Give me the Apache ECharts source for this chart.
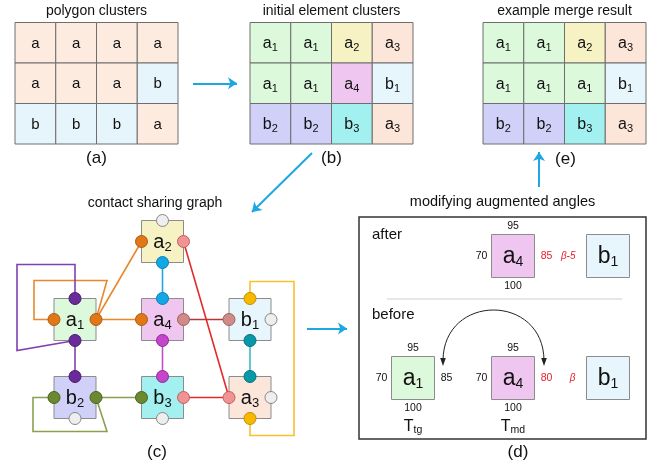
<!DOCTYPE html>
<html><head><meta charset="utf-8">
<script src="https://cdn.jsdelivr.net/npm/echarts@6/dist/echarts.min.js"></script>
<style>html,body{margin:0;padding:0;background:#fff}#c{width:665px;height:465px}</style>
</head><body><div id="c"></div>
<script>
// ---------------- data ----------------
const polygonClusters = [['a','a','a','a'],['a','a','a','b'],['b','b','b','a']];
const initialClusters = [['a1','a1','a2','a3'],['a1','a1','a4','b1'],['b2','b2','b3','a3']];
const mergeResult     = [['a1','a1','a2','a3'],['a1','a1','a1','b1'],['b2','b2','b3','a3']];
const panelTitles = ['polygon clusters','initial element clusters','example merge result','contact sharing graph','modifying augmented angles'];
const panelTags   = ['(a)','(b)','(e)','(c)','(d)'];
const graphNodes  = ['a2','a1','a4','b1','b2','b3','a3'];
// port: node, side, contact group ('free' = unshared)
const graphPorts = [
 ['a2','top','free'],['a2','left','orange'],['a2','right','pink'],['a2','bottom','blue'],
 ['a1','top','purple'],['a1','left','orange'],['a1','right','orange'],['a1','bottom','purple'],
 ['a4','top','blue'],['a4','left','orange'],['a4','right','brown'],['a4','bottom','magenta'],
 ['b1','top','gold'],['b1','left','brown'],['b1','right','free'],['b1','bottom','teal'],
 ['b2','top','purple'],['b2','left','olive'],['b2','right','olive'],['b2','bottom','free'],
 ['b3','top','magenta'],['b3','left','olive'],['b3','right','pink'],['b3','bottom','free'],
 ['a3','top','teal'],['a3','left','pink'],['a3','right','free'],['a3','bottom','gold']
];
// edge: from node, side, to node, side, group
const graphEdges = [
 ['a2','bottom','a4','top','blue'],
 ['a1','right','a2','left','orange'],
 ['a1','right','a4','left','orange'],
 ['a1','left','a1','right','orange'],
 ['a1','top','a1','bottom','purple'],
 ['a1','bottom','b2','top','purple'],
 ['a4','bottom','b3','top','magenta'],
 ['b2','right','b3','left','olive'],
 ['b2','left','b2','right','olive'],
 ['a4','right','b1','left','brown'],
 ['a2','right','a3','left','red'],
 ['b3','right','a3','left','red'],
 ['b1','bottom','a3','top','teal'],
 ['b1','top','a3','bottom','gold']
];
const angleRowLabels = ['after','before'];
const afterAngles      = [95, 100, 70, 85];   // a4 : top, bottom, left, right
const beforeTgAngles   = [95, 100, 70, 85];   // a1 (T_tg)
const beforeMdAngles   = [95, 100, 70, 80];   // a4 (T_md)
const betaLabels       = ['β-5', 'β'];
const roleLabels       = ['Ttg', 'Tmd'];

// ---------------- styles / layout ----------------
const FONT = '"Liberation Sans", Arial, Helvetica, sans-serif';
const FILL = {a:'#fdebe0', b:'#e6f4fb', a1:'#dcf9dc', a2:'#f6f2c4', a3:'#fce6da', a4:'#efc6ef', b1:'#e7f5fc', b2:'#d0d0f8', b3:'#a2f0f0'};
const PORT = {free:['#eeeeee','#888'], orange:['#e07818','#b05a10'], pink:['#f29393','#c06060'], blue:['#12a8e8','#0a80b0'],
  purple:['#6a2a9a','#4a1a70'], magenta:['#c444cc','#902a98'], brown:['#d08a88','#a06060'], olive:['#6b8a30','#4a6020'],
  gold:['#f8b800','#c09000'], teal:['#0898a8','#067080']};
const EDGE = {orange:'#e8882c', purple:'#8040b0', olive:'#8aa050', blue:'#20a8e0', magenta:'#c050c8', brown:'#b03838',
  red:'#e22a2a', teal:'#40b8c8', gold:'#f8c030'};
const L = {gridX:[15,250,483], gridY:22.5, cellW:40.75, cellH:40.5,
  g0x:75, g0y:241.5, gdx:87.5, gdy:78, half:21,
  dBox:[359,217,646,439], dColX:[413,513,608], dRowY:[256,378], dHalf:21.5};
const NODE_AT = {a2:[1,0], a1:[0,1], a4:[1,1], b1:[2,1], b2:[0,2], b3:[1,2], a3:[2,2]};
const SIDE = {top:[0,-1], bottom:[0,1], left:[-1,0], right:[1,0]};
const LOOPS = { // waypoints relative to the centre of the source node
 'a1.left>a1.right':[[-41,0],[-41,-39],[32,-39]],
 'a1.top>a1.bottom':[[0,-55],[-58,-55],[-58,31]],
 'b2.left>b2.right':[[-42,0],[-42,34],[32,34]],
 'b1.top>a3.bottom':[[0,-38],[44,-38],[44,116],[0,116]]
};
function nodeC(n){ const p = NODE_AT[n]; return [L.g0x + p[0]*L.gdx, L.g0y + p[1]*L.gdy]; }
function portXY(n, s){ const c = nodeC(n), d = SIDE[s]; return [c[0]+d[0]*L.half, c[1]+d[1]*L.half]; }

function richLabel(s){ return s.length>1 ? '{m|'+s[0]+'}{s|'+s.slice(1)+'}' : '{m|'+s+'}'; }
function rich(main, sub, drop, fill){ fill = fill || '#111';
  return {m:{fontSize:main, fontFamily:FONT, fill:fill}, s:{fontSize:sub, fontFamily:FONT, fill:fill, padding:[drop,0,0,0]}}; }

// ---------- derived lists ----------
const cellList = [];
[polygonClusters, initialClusters, mergeResult].forEach((g,p)=>g.forEach((row,r)=>row.forEach((lab,c)=>cellList.push({p,r,c,lab}))));

const edgeData = graphEdges.map(e=>{
  const key = e[0]+'.'+e[1]+'>'+e[2]+'.'+e[3];
  const a = portXY(e[0],e[1]), b = portXY(e[2],e[3]);
  let pts = [a];
  if (LOOPS[key]) { const c = nodeC(e[0]); LOOPS[key].forEach(o=>pts.push([c[0]+o[0], c[1]+o[1]])); }
  pts.push(b);
  return {coords: pts, lineStyle:{color: EDGE[e[4]]}};
});
const portData = graphPorts.map(p=>({value: portXY(p[0],p[1]), itemStyle:{color:PORT[p[2]][0], borderColor:PORT[p[2]][1]}}));

const gw = 4*L.cellW, gh = 3*L.cellH;
const arrows = [
 [[L.gridX[0]+gw+15, L.gridY+1.5*L.cellH],[L.gridX[1]-13, L.gridY+1.5*L.cellH]],
 [[L.gridX[1]+62, L.gridY+gh+9],[L.gridX[1]+2, L.gridY+gh+68]],
 [[nodeC('b1')[0]+57, nodeC('b1')[1]+9],[L.dBox[0]-12, nodeC('b1')[1]+9]],
 [[L.gridX[2]+1.375*L.cellW, L.dBox[1]-30],[L.gridX[2]+1.375*L.cellW, L.gridY+gh+8]]
];

// text items
const texts = [];
const gridCx = L.gridX.map(x=>x+gw/2);
[0,1,2].forEach(i=>{ texts.push({x:gridCx[i], y:11, t:panelTitles[i], fs:14}); });
texts.push({x:gridCx[0], y:158, t:panelTags[0], fs:17});
texts.push({x:gridCx[1], y:158, t:panelTags[1], fs:17});
texts.push({x:gridCx[2]+1, y:159, t:panelTags[2], fs:17});
texts.push({x:155, y:203, t:panelTitles[3], fs:14});
texts.push({x:157, y:452, t:panelTags[3], fs:17});
texts.push({x:(L.dBox[0]+L.dBox[2])/2, y:202, t:panelTitles[4], fs:14.5});
texts.push({x:518, y:452, t:panelTags[4], fs:17});
angleRowLabels.forEach((s,i)=>texts.push({x:L.dBox[0]+13, y:L.dRowY[i]-21-(i?42:0)+(i?0:0), t:s, fs:15, align:'left'}));

// d-panel boxes
const dBoxes = [
 {lab:'a4', col:1, row:0, ang:afterAngles, red:true},
 {lab:'b1', col:2, row:0, ang:null, beta:betaLabels[0]},
 {lab:'a1', col:0, row:1, ang:beforeTgAngles, red:false, role:roleLabels[0]},
 {lab:'a4', col:1, row:1, ang:beforeMdAngles, red:true, role:roleLabels[1]},
 {lab:'b1', col:2, row:1, ang:null, beta:betaLabels[1]}
];

const chart = echarts.init(document.getElementById('c'), null, {renderer:'canvas'});
chart.setOption({
  animation:false,
  backgroundColor:'#ffffff',
  grid:{left:0, right:0, top:0, bottom:0},
  xAxis:{type:'value', min:0, max:665, show:false},
  yAxis:{type:'value', min:0, max:465, inverse:true, show:false},
  series:[
    { // grid cells
      type:'custom', z:1, data: cellList.map(d=>[L.gridX[d.p]+d.c*L.cellW, L.gridY+d.r*L.cellH]),
      renderItem:(params, api)=>{
        const d = cellList[params.dataIndex];
        const a = api.coord([api.value(0), api.value(1)]);
        const b = api.coord([api.value(0)+L.cellW, api.value(1)+L.cellH]);
        const big = d.p===0 ? rich(15,10,8) : rich(16,11,9);
        return {type:'group', children:[
          {type:'rect', shape:{x:a[0], y:a[1], width:b[0]-a[0], height:b[1]-a[1]}, style:{fill:FILL[d.lab], stroke:'#6e6e6e', lineWidth:1}},
          {type:'text', x:(a[0]+b[0])/2, y:(a[1]+b[1])/2+1, style:{text:richLabel(d.lab), rich:big, align:'center', verticalAlign:'middle'}}
        ]};
      }
    },
    { // graph node boxes
      type:'custom', z:1, data: graphNodes.map(n=>nodeC(n)),
      renderItem:(params, api)=>{
        const n = graphNodes[params.dataIndex];
        const c = api.coord([api.value(0), api.value(1)]);
        return {type:'group', children:[
          {type:'rect', shape:{x:c[0]-L.half, y:c[1]-L.half, width:2*L.half, height:2*L.half}, style:{fill:FILL[n], stroke:'#8c8c8c', lineWidth:1}},
          {type:'text', x:c[0], y:c[1]+1, style:{text:richLabel(n), rich:rich(20,13,10), align:'center', verticalAlign:'middle'}}
        ]};
      }
    },
    { // contact edges
      type:'lines', coordinateSystem:'cartesian2d', polyline:true, z:2, silent:true,
      lineStyle:{width:1.6, opacity:1}, data: edgeData
    },
    { // contact ports
      type:'scatter', z:3, symbol:'circle', symbolSize:12, silent:true,
      itemStyle:{borderWidth:1, opacity:1}, data: portData
    },
    { // flow arrows
      type:'lines', coordinateSystem:'cartesian2d', z:2, silent:true,
      symbol:['none','arrow'], symbolSize:[0,9],
      lineStyle:{color:'#1ea7e1', width:2, opacity:1},
      data: arrows.map(a=>({coords:a}))
    },
    { // panel d frame, separator, boxes, angles
      type:'custom', z:1, data:[[L.dBox[0], L.dBox[1]]],
      renderItem:(params, api)=>{
        const p0 = api.coord([L.dBox[0], L.dBox[1]]), p1 = api.coord([L.dBox[2], L.dBox[3]]);
        const ch = [
          {type:'rect', shape:{x:p0[0], y:p0[1], width:p1[0]-p0[0], height:p1[1]-p0[1]}, style:{fill:'none', stroke:'#333', lineWidth:1.5}},
          {type:'line', shape:{x1:p0[0]+28, y1:299, x2:p1[0]-24, y2:299}, style:{stroke:'#cfcfcf', lineWidth:1}}
        ];
        dBoxes.forEach(b=>{
          const c = api.coord([L.dColX[b.col], L.dRowY[b.row]]), h = L.dHalf;
          ch.push({type:'rect', shape:{x:c[0]-h, y:c[1]-h, width:2*h, height:2*h}, style:{fill:FILL[b.lab], stroke:'#8c8c8c', lineWidth:1}});
          ch.push({type:'text', x:c[0], y:c[1]+1, style:{text:richLabel(b.lab), rich:rich(23,14,11), align:'center', verticalAlign:'middle'}});
          if (b.ang) {
            const f = {fontSize:10.5, fontFamily:FONT, align:'center', verticalAlign:'middle'};
            ch.push({type:'text', x:c[0], y:c[1]-h-8, style:Object.assign({text:String(b.ang[0]), fill:'#111'}, f)});
            ch.push({type:'text', x:c[0], y:c[1]+h+9, style:Object.assign({text:String(b.ang[1]), fill:'#111'}, f)});
            ch.push({type:'text', x:c[0]-h-10, y:c[1], style:Object.assign({text:String(b.ang[2]), fill:'#111'}, f)});
            ch.push({type:'text', x:c[0]+h+12, y:c[1], style:Object.assign({text:String(b.ang[3]), fill:b.red?'#e8202a':'#111'}, f)});
          }
          if (b.beta) {
            ch.push({type:'text', x:c[0]-h-11, y:c[1], style:{text:b.beta, fill:'#e8202a', fontSize:10, fontStyle:'italic', fontFamily:FONT, align:'right', verticalAlign:'middle'}});
          }
          if (b.role) {
            ch.push({type:'text', x:c[0], y:c[1]+h+27, style:{text:richLabel(b.role), rich:rich(16,10.5,8), align:'center', verticalAlign:'middle'}});
          }
        });
        // curved double arrow between the two right-side angles
        const s = api.coord([L.dColX[1]+31, L.dRowY[1]-17]), e = api.coord([L.dColX[0]+30, L.dRowY[1]-17]);
        const top = s[1]-68;
        ch.push({type:'bezierCurve', shape:{x1:s[0], y1:s[1], cpx1:s[0], cpy1:top, cpx2:e[0], cpy2:top, x2:e[0], y2:e[1]}, style:{stroke:'#222', lineWidth:1, fill:'none'}});
        [s,e].forEach(q=>ch.push({type:'polygon', shape:{points:[[q[0],q[1]+5],[q[0]-2.8,q[1]-3],[q[0]+2.8,q[1]-3]]}, style:{fill:'#222'}}));
        return {type:'group', children:ch};
      }
    },
    { // texts
      type:'custom', z:4, data: texts.map(t=>[t.x,t.y]),
      renderItem:(params, api)=>{
        const t = texts[params.dataIndex];
        const c = api.coord([api.value(0), api.value(1)]);
        return {type:'text', x:c[0], y:c[1], style:{text:t.t, fill:'#111', fontSize:t.fs, fontFamily:FONT, align:t.align||'center', verticalAlign:'middle'}};
      }
    }
  ]
});
</script></body></html>
